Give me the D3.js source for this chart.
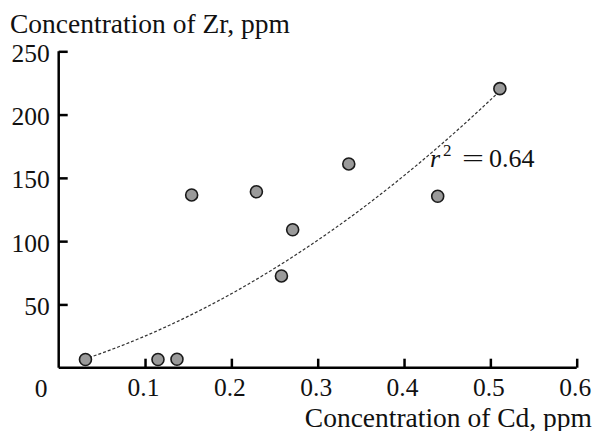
<!DOCTYPE html>
<html>
<head>
<meta charset="utf-8">
<script src="https://cdn.jsdelivr.net/npm/d3@7/dist/d3.min.js"></script>
<style>
  html, body { margin: 0; padding: 0; background: #fff; }
  svg text { font-family: "Liberation Serif", "Times New Roman", serif !important; fill: #111; }
</style>
</head>
<body>
<svg id="chart" width="595" height="431"></svg>
<script>
// ---- data ----
const cdValues = [0.031, 0.115, 0.137, 0.154, 0.229, 0.258, 0.271, 0.336, 0.439, 0.511];
const zrValues = [6.5, 6.5, 6.7, 136.5, 139, 72.5, 109, 161, 135.5, 220.5];
const xTickValues = [0.1, 0.2, 0.3, 0.4, 0.5, 0.6];
const xTickLabels = ["0.1", "0.2", "0.3", "0.4", "0.5", "0.6"];
const yTickValues = [50, 100, 150, 200, 250];
const yTickLabels = ["50", "100", "150", "200", "250"];
// fitted quadratic trend (a + b x + c x^2) and its drawn x extent
const trendCoef = [0.3, 203, 439];
const trendExtent = [0.035, 0.508];
const rSquaredText = "0.64";
const xTitle = "Concentration of Cd, ppm";
const yTitle = "Concentration of Zr, ppm";

// ---- layout ----
const svg = d3.select("#chart");
const x = d3.scaleLinear().domain([0, 0.6]).range([58.7, 576.7]);
const y = d3.scaleLinear().domain([0, 250]).range([367.7, 51.3]);
const tickFont = 25.5;
const serif = "'Liberation Serif', 'Times New Roman', serif";

// y axis
const yAxis = svg.append("g")
  .attr("transform", `translate(${x(0)},0)`)
  .call(d3.axisLeft(y).tickValues(yTickValues)
    .tickFormat((d, i) => yTickLabels[i])
    .tickSizeInner(-9).tickSizeOuter(0).tickPadding(10));
yAxis.select(".domain").attr("d", `M0,${y(250)}V${y(0)}`);

// x axis
const xAxis = svg.append("g")
  .attr("transform", `translate(0,${y(0)})`)
  .call(d3.axisBottom(x).tickValues(xTickValues)
    .tickFormat((d, i) => xTickLabels[i])
    .tickSizeInner(-9).tickSizeOuter(0).tickPadding(10));
xAxis.select(".domain").attr("d", `M${x(0)},0H${x(0.6)}`);

[yAxis, xAxis].forEach(g => {
  g.attr("font-family", serif);
  g.select(".domain").attr("stroke", "#000").attr("stroke-width", 2.5).attr("fill", "none");
  g.selectAll(".tick line").attr("stroke", "#000").attr("stroke-width", 2.5);
  g.selectAll(".tick text")
    .style("font-family", serif)
    .attr("font-size", tickFont).attr("fill", "#111");
});
yAxis.selectAll(".tick text").attr("x", -9).attr("dy", 10);
xAxis.selectAll(".tick text").attr("y", 0).attr("dy", 28.8).attr("dx", -2);

// origin label
svg.append("text").attr("x", 41).attr("y", 396.5).style("font-family", serif)
  .attr("text-anchor", "middle").attr("font-size", tickFont).text("0");

// axis titles
svg.append("text").attr("x", 10).attr("y", 33).style("font-family", serif)
  .attr("font-size", 27.5).text(yTitle);
svg.append("text").attr("x", 592).attr("y", 426.5).style("font-family", serif)
  .attr("text-anchor", "end").attr("font-size", 27.5).text(xTitle);

// trend curve
const trendX = d3.range(0, 101).map(i => trendExtent[0] + (trendExtent[1] - trendExtent[0]) * i / 100);
const trendFn = v => trendCoef[0] + trendCoef[1] * v + trendCoef[2] * v * v;
svg.append("path")
  .datum(trendX)
  .attr("d", d3.line().x(d => x(d)).y(d => y(trendFn(d))))
  .attr("fill", "none").attr("stroke", "#333")
  .attr("stroke-width", 1.2).attr("stroke-dasharray", "3,2");

// points
svg.append("g").selectAll("circle")
  .data(cdValues.map((c, i) => [c, zrValues[i]]))
  .join("circle")
  .attr("cx", d => x(d[0])).attr("cy", d => y(d[1])).attr("r", 6)
  .attr("fill", "#9a9a9a").attr("stroke", "#1a1a1a").attr("stroke-width", 1.6);

// r^2 annotation
const ann = svg.append("text").attr("y", 167).attr("font-size", 26).style("font-family", serif);
ann.append("tspan").attr("x", 430).attr("font-style", "italic").text("r");
ann.append("tspan").attr("x", 443).attr("dy", -11).attr("font-size", 17).text("2");
ann.append("tspan").attr("x", 462).attr("dy", 11)
  .attr("textLength", 22).attr("lengthAdjust", "spacingAndGlyphs").text("=");
ann.append("tspan").attr("x", 489).text(rSquaredText);
</script>
</body>
</html>
